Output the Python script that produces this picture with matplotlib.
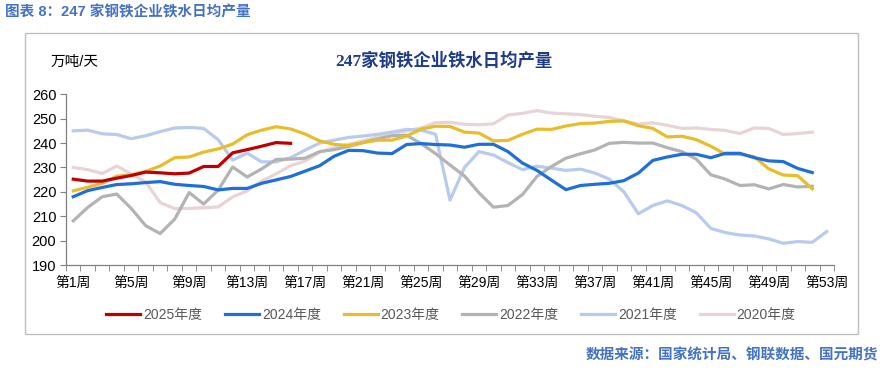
import numpy as np
import matplotlib.pyplot as plt
from matplotlib.patches import Rectangle

plt.rcParams['font.family'] = ['Liberation Sans', 'Noto Sans CJK SC', 'DejaVu Sans']

# weekly hot metal output, 10k t/day
y2025 = [225.2, 224.4, 224.4, 225.6, 226.7, 228.1, 227.8, 227.4, 227.7, 230.4,
         230.4, 236.0, 237.3, 238.7, 240.2, 239.9]
y2024 = [218.0, 220.5, 221.8, 223.0, 223.3, 223.8, 224.2, 223.1, 222.6, 222.2,
         220.8, 221.4, 221.4, 223.5, 224.9, 226.3, 228.5, 230.7, 234.6, 237.0,
         236.9, 235.9, 235.7, 239.4, 239.8, 239.4, 239.2, 238.3, 239.5, 239.5,
         236.5, 231.8, 228.8, 224.8, 220.9, 222.6, 223.1, 223.5, 224.6, 227.7,
         232.9, 234.3, 235.4, 235.4, 234.0, 235.8, 235.8, 234.0, 232.7, 232.4,
         229.6, 227.9]
y2023 = [220.4, 221.9, 223.5, 226.4, 227.0, 228.4, 230.6, 234.0, 234.3, 236.3,
         237.6, 239.6, 243.4, 245.3, 246.7, 245.8, 243.7, 240.9, 239.5, 239.0,
         240.2, 241.2, 241.2, 242.9, 245.7, 246.9, 246.8, 244.5, 244.1, 240.9,
         241.1, 243.6, 245.7, 245.6, 247.0, 248.0, 248.2, 248.9, 249.1, 247.1,
         246.0, 242.5, 242.8, 241.4, 238.7, 235.4, 235.4, 234.4, 229.4, 226.9,
         226.6, 221.2]
y2022 = [208.1, 213.6, 218.0, 219.1, 213.2, 206.1, 202.9, 208.8, 219.7, 215.0,
         220.7, 230.2, 226.1, 229.4, 233.3, 233.4, 233.8, 236.5, 237.3, 238.6,
         240.2, 241.7, 243.0, 243.2, 239.8, 235.7, 231.0, 226.5, 219.6, 213.7,
         214.4, 218.9, 226.3, 230.4, 233.8, 235.6, 237.2, 239.9, 240.3, 240.0,
         240.0, 238.1, 236.5, 233.4, 227.0, 225.2, 222.6, 222.9, 221.2, 223.0,
         222.0, 222.3]
y2021 = [245.0, 245.3, 243.8, 243.5, 241.8, 243.0, 244.7, 246.2, 246.4, 246.0,
         241.4, 233.0, 235.9, 232.3, 232.3, 234.0, 237.1, 240.0, 241.2, 242.3,
         242.9, 243.6, 244.5, 245.6, 245.3, 243.6, 216.6, 230.0, 236.5, 235.1,
         232.0, 229.1, 230.5, 229.7, 228.8, 229.3, 227.7, 225.2, 220.0, 211.0,
         214.4, 216.3, 214.4, 211.4, 205.0, 203.3, 202.3, 201.9, 200.7, 198.9,
         199.6, 199.3, 203.7]
y2020 = [230.0, 229.1, 227.5, 230.6, 227.4, 224.0, 215.6, 213.1, 213.2, 213.5,
         213.8, 217.9, 220.4, 224.4, 227.4, 230.7, 232.6, 236.2, 238.1, 239.5,
         240.9, 242.5, 243.9, 245.0, 246.2, 248.4, 248.5, 247.7, 247.5, 247.9,
         251.5, 252.2, 253.3, 252.3, 252.0, 251.7, 251.0, 250.5, 249.1, 247.8,
         248.3, 247.3, 246.0, 246.2, 245.6, 245.2, 243.9, 246.2, 246.0, 243.5,
         243.9, 244.5]

labels = ["2025年度", "2024年度", "2023年度", "2022年度", "2021年度", "2020年度"]
values = [y2025, y2024, y2023, y2022, y2021, y2020]
colors = ["#C00000", "#1F6FDB", "#E9BD2A", "#B3B3B3", "#B8CBEE", "#E8D4D4"]

week_ticks = list(range(1, 54, 4))
week_labels = ["第%d周" % w for w in week_ticks]

fig = plt.figure(figsize=(8.84, 3.74), dpi=100)

# outer frame
fig.patches.append(Rectangle((25 / 884, 1 - 334 / 374), 833 / 884, 301 / 374,
                             transform=fig.transFigure, fill=False,
                             edgecolor="#BFBFBF", lw=1))

ax = fig.add_axes([66 / 884, 109 / 374, 768 / 884, 170.7 / 374])

handles = []
for i in range(len(values) - 1, -1, -1):
    x = np.arange(1, len(values[i]) + 1)
    line, = ax.plot(x, values[i], color=colors[i], lw=2.3, label=labels[i])
    handles.insert(0, line)

ax.set_xlim(0.5, 53.5)
ax.set_ylim(190, 260)
ax.set_yticks(range(190, 261, 10))
ax.set_xticks(week_ticks)
ax.set_xticklabels(week_labels)
ax.set_xticks(np.arange(0.5, 54, 1), minor=True)
ax.tick_params(axis="x", which="major", length=0, pad=8, labelsize=10, colors="#000000")
ax.tick_params(axis="x", which="minor", length=4, color="#808080", direction="out")
ax.tick_params(axis="y", length=4, color="#808080", labelsize=10.5, pad=3)

for s in ["top", "right"]:
    ax.spines[s].set_visible(False)
for s in ["left", "bottom"]:
    ax.spines[s].set_color("#808080")
    ax.spines[s].set_linewidth(0.9)

fig.text(51 / 884, 1 - 62 / 374, "万吨/天", fontsize=10.5, va="center", ha="left")
fig.text(444 / 884, 1 - 61 / 374, "247家钢铁企业铁水日均产量", fontsize=12.5,
         fontweight="bold", color="#1F3C88", ha="center", va="center",
         family=["Liberation Serif", "Noto Sans CJK SC"])
fig.text(5 / 884, 1 - 12 / 374, "图表 8：247 家钢铁企业铁水日均产量", fontsize=10.5,
         fontweight="bold", color="#4472C4", ha="left", va="center")
fig.text(878 / 884, 1 - 355 / 374, "数据来源：国家统计局、钢联数据、国元期货",
         fontsize=10.5, fontweight="bold", color="#4472C4", ha="right", va="center")

fig.legend(handles=handles, labels=labels, ncol=6, loc="center",
           bbox_to_anchor=(451 / 884, 1 - 315 / 374), frameon=False,
           fontsize=10, handlelength=2.45, handletextpad=0.2,
           columnspacing=1.65, labelcolor="#595959")

fig.savefig("out.png", dpi=100)
plt.close(fig)
